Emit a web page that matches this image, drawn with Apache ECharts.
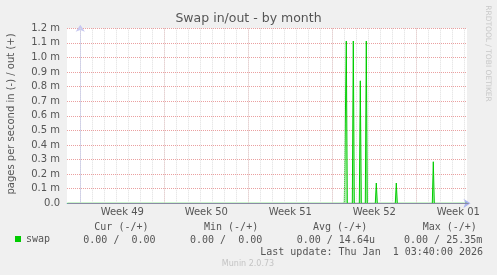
<!DOCTYPE html>
<html><head><meta charset="utf-8">
<script src="https://cdn.jsdelivr.net/npm/echarts@6/dist/echarts.min.js"></script>
<style>html,body{margin:0;padding:0;background:#f0f0f0;}#c{width:497px;height:275px;}</style>
</head><body><div id="c"></div>
<script>
const chartTitle = 'Swap in/out - by month';
const yAxisTitle = 'pages per second in (-) / out (+)';
const seriesName = 'swap';
const weekLabels = ['Week 49', 'Week 50', 'Week 51', 'Week 52', 'Week 01'];
const yTickLabels = ['0.0', '0.1 m', '0.2 m', '0.3 m', '0.4 m', '0.5 m', '0.6 m', '0.7 m', '0.8 m', '0.9 m', '1.0 m', '1.1 m', '1.2 m'];
// hours since Monday 00:00 of week 49
const outHours  = [-26, 528, 530, 532, 534, 544, 546, 548, 558, 560, 562, 570, 572, 574, 590, 592, 594, 630, 632, 634, 704, 706, 708, 773];
// pages per second (out)
const outValues = [0, 0, 0.00055, 0.001113, 0, 0, 0.001113, 0, 0, 0.00084, 0, 0, 0.001113, 0, 0, 0.000139, 0, 0, 0.000139, 0, 0, 0.000285, 0, 0];
const statHeaders = ['Cur (-/+)', 'Min (-/+)', 'Avg (-/+)', 'Max (-/+)'];
const statValues = ['0.00 /  0.00', '0.00 /  0.00', '0.00 / 14.64u', '0.00 / 25.35m'];
const lastUpdate = 'Last update: Thu Jan  1 03:40:00 2026';
const footer = 'Munin 2.0.73';
const sideText = 'RRDTOOL / TOBI OETIKER';

const TXT = '#555';
const SANS = 'DejaVu Sans';
const MONO = 'DejaVu Sans Mono';
const gTop = 28.3, gHeight = 175;
const hMin = -26.6, hMax = 773.4;

const chart = echarts.init(document.getElementById('c'), null, {renderer: 'canvas'});
const hiddenY = (gi) => ({type: 'value', gridIndex: gi, min: 0, max: 1, show: false});

const headerX = [94.3, 204, 313, 422.7];
const valueX = [83.3, 190, 296.7, 404];
const graphics = [];
statHeaders.forEach((t, i) => graphics.push({type: 'text', x: headerX[i], y: 227.5,
  style: {text: t, fill: TXT, font: '10px "' + MONO + '"', textAlign: 'left', textVerticalAlign: 'middle'}}));
statValues.forEach((t, i) => graphics.push({type: 'text', x: valueX[i], y: 240,
  style: {text: t, fill: TXT, font: '10px "' + MONO + '"', textAlign: 'left', textVerticalAlign: 'middle'}}));
graphics.push({type: 'text', x: 483, y: 252.2,
  style: {text: lastUpdate, fill: TXT, font: '10px "' + MONO + '"', textAlign: 'right', textVerticalAlign: 'middle'}});
graphics.push({type: 'text', x: 248, y: 264,
  style: {text: footer, fill: '#c4c4c4', font: '8px "' + SANS + '"', textAlign: 'center', textVerticalAlign: 'middle'}});
graphics.push({type: 'text', x: 487.5, y: 53.5, rotation: -Math.PI / 2,
  style: {text: sideText, fill: '#c8c8c8', font: '7.5px "' + SANS + '"', textAlign: 'center', textVerticalAlign: 'middle'}});
graphics.push({type: 'text', x: 11, y: 114, rotation: Math.PI / 2,
  style: {text: yAxisTitle, fill: TXT, font: '10px "' + SANS + '"', textAlign: 'center', textVerticalAlign: 'middle'}});

chart.setOption({
  animation: false,
  backgroundColor: '#f0f0f0',
  title: {text: chartTitle, left: 'center', top: 12, padding: 0,
    textStyle: {fontFamily: SANS, fontSize: 12.5, fontWeight: 'normal', color: TXT}},
  legend: {data: [seriesName], left: 15, top: 234, padding: 0, icon: 'rect', itemWidth: 6, itemHeight: 6,
    textStyle: {fontFamily: MONO, fontSize: 10, color: TXT}},
  grid: [
    {left: 67, top: gTop, width: 400, height: gHeight, backgroundColor: '#fff', show: true, borderWidth: 0},
    {left: 68.3, top: gTop, width: 400, height: gHeight},
    {left: 80.3, top: gTop, width: 386.7, height: gHeight},
    {left: 38.3, top: gTop, width: 428.7, height: gHeight}
  ],
  xAxis: [
    {type: 'value', gridIndex: 0, min: hMin, max: hMax, axisLabel: {show: false}, axisTick: {show: false},
      splitLine: {show: false},
      axisLine: {show: true, lineStyle: {color: '#aab4f0', width: 1}, symbol: ['none', 'arrow'], symbolSize: [7, 7], symbolOffset: [0, 3.5]}},
    {type: 'value', gridIndex: 1, min: -24, max: 776, interval: 24, axisLabel: {show: false}, axisTick: {show: false}, z: 5,
      axisLine: {show: true, lineStyle: {color: '#8a8aa4', width: 1}},
      splitLine: {show: true, showMinLine: false, showMaxLine: false, lineStyle: {color: '#dedede', type: [1, 1], width: 1}}},
    {type: 'value', gridIndex: 2, min: 0, max: 773.4, interval: 168, axisLabel: {show: false}, axisTick: {show: false},
      axisLine: {show: false},
      splitLine: {show: true, showMinLine: true, showMaxLine: false, lineStyle: {color: '#eaa0a0', type: [1, 1], width: 1}}},
    {type: 'value', gridIndex: 3, min: -84, max: 773.4, interval: 168, axisTick: {show: false}, axisLine: {show: false},
      splitLine: {show: false},
      axisLabel: {show: true, margin: 4, color: TXT, fontFamily: SANS, fontSize: 10, hideOverlap: false,
        showMinLabel: true, showMaxLabel: true,
        formatter: (v) => {
          const k = (v - 84) / 168;
          if (Math.abs(k - Math.round(k)) > 1e-6) return '';
          return weekLabels[Math.round(k)] || '';
        }}}
  ],
  yAxis: [
    {type: 'value', gridIndex: 0, min: 0, max: 0.0012, interval: 0.0001,
      axisLine: {show: true, lineStyle: {color: '#c8c8f0', width: 1}, symbol: ['none', 'arrow'], symbolSize: [7, 7], symbolOffset: [0, 3.5]},
      axisTick: {show: false},
      axisLabel: {margin: 7, color: TXT, fontFamily: SANS, fontSize: 10,
        formatter: (v) => yTickLabels[Math.round(v / 0.0001)] || ''},
      splitLine: {show: true, lineStyle: {color: '#eaa0a0', type: [1, 1], width: 1}}},
    hiddenY(1), hiddenY(2), hiddenY(3)
  ],
  series: [{
    name: seriesName, type: 'line', xAxisIndex: 0, yAxisIndex: 0,
    data: outHours.map((h, i) => [h, outValues[i]]),
    showSymbol: false, symbol: 'none',
    itemStyle: {color: '#00cc00'},
    lineStyle: {color: '#00cc00', width: 1},
    areaStyle: {color: 'rgba(0,204,0,0.45)'}
  }],
  graphic: graphics
});
</script></body></html>
